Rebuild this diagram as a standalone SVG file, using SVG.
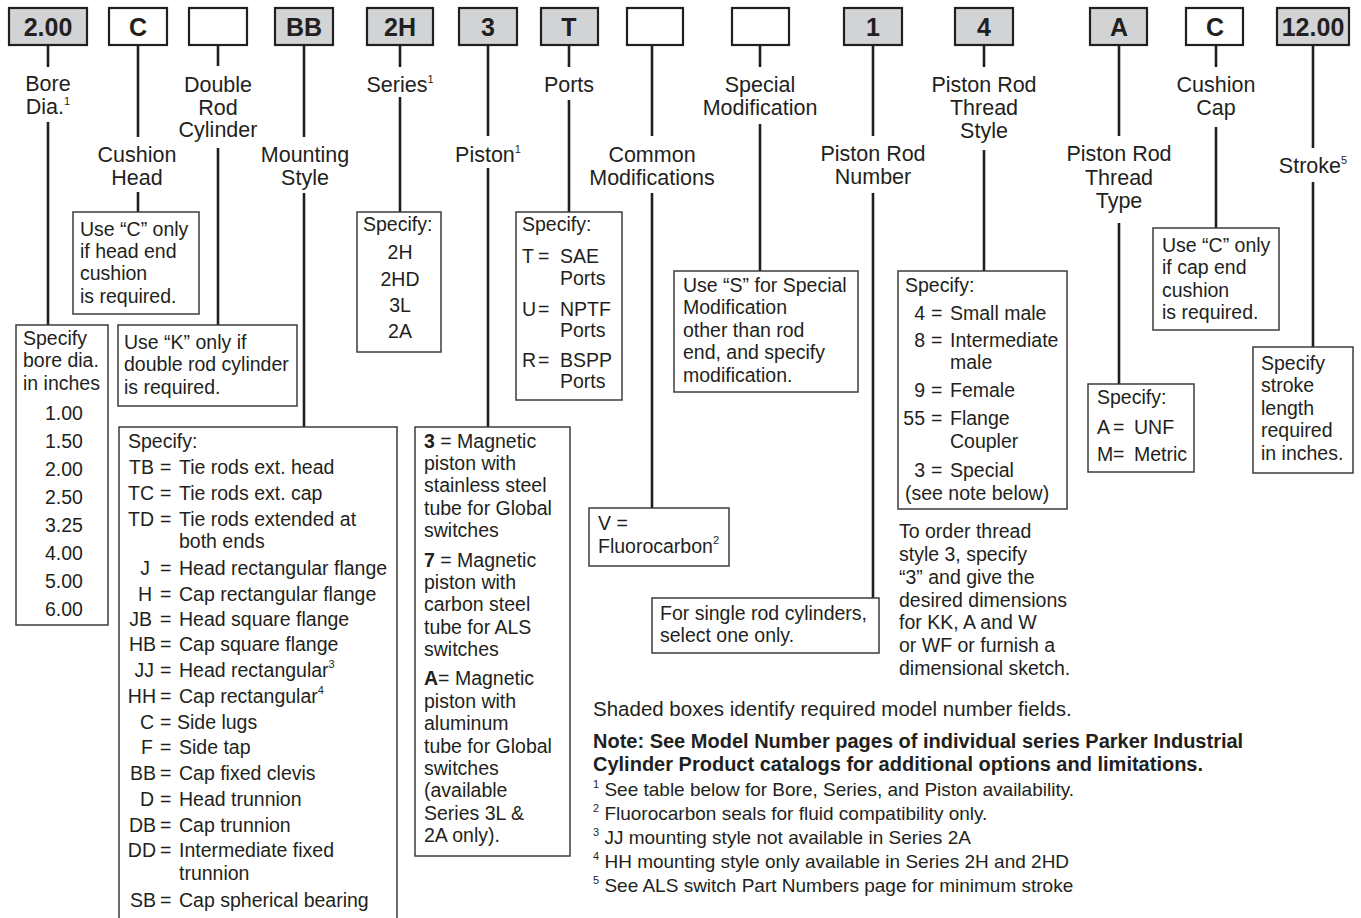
<svg xmlns="http://www.w3.org/2000/svg" width="1361" height="918" viewBox="0 0 1361 918">
<style>
text{font-family:"Liberation Sans",Arial,Helvetica,sans-serif;fill:#231f20}
.top{fill:#fff;stroke:#231f20;stroke-width:2.2}
.req{fill:#d1d3d4}
.code{font-size:25px;font-weight:bold;text-anchor:middle}
.ib{fill:#fff;stroke:#3c3c3c;stroke-width:1.5}
.ln{stroke:#231f20;stroke-width:2.6;fill:none}
.lbl{font-size:21.5px;text-anchor:middle}
.t{font-size:19.5px}
.m{text-anchor:middle}
.e{text-anchor:end}
.fn{font-size:19px}
.b{font-weight:bold}
.sup{font-size:11px}
</style>

<g id="connectors">
<path class="ln" d="M48 45V67M48 122V325
M138 45V137M138 192V212
M218 45V66M218 148V325
M304 45V137M304 193V427
M400 45V67M400 97V212
M488 45V136M488 168V427
M569 45V67M569 100V212
M652 45V136M652 193V508
M760 45V67M760 124V271
M873 45V136M873 193V598
M984 45V67M984 150V271
M1119 45V136M1119 223V384
M1216 45V67M1216 127V228
M1313 45V148M1313 182V347"/>
</g>

<g id="field-bore">
<rect class="top req" x="9" y="8" width="78" height="37"/>
<text class="code" x="48" y="36">2.00</text>
<text class="lbl" x="48" y="91">Bore</text>
<text class="lbl" x="48" y="114">Dia.<tspan class="sup" dy="-9">1</tspan></text>
<rect class="ib" x="16" y="325" width="92" height="300"/>
<text class="t" x="23" y="345">Specify</text>
<text class="t" x="23" y="367">bore dia.</text>
<text class="t" x="23" y="390">in inches</text>
<text class="t m" x="64" y="420">1.00</text>
<text class="t m" x="64" y="448">1.50</text>
<text class="t m" x="64" y="476">2.00</text>
<text class="t m" x="64" y="504">2.50</text>
<text class="t m" x="64" y="532">3.25</text>
<text class="t m" x="64" y="560">4.00</text>
<text class="t m" x="64" y="588">5.00</text>
<text class="t m" x="64" y="616">6.00</text>
</g>

<g id="field-cushion-head">
<rect class="top" x="109" y="8" width="58" height="37"/>
<text class="code" x="138" y="36">C</text>
<text class="lbl" x="137" y="162">Cushion</text>
<text class="lbl" x="137" y="185">Head</text>
<rect class="ib" x="73" y="212" width="126" height="102"/>
<text class="t" x="80" y="236">Use “C” only</text>
<text class="t" x="80" y="258">if head end</text>
<text class="t" x="80" y="280">cushion</text>
<text class="t" x="80" y="303">is required.</text>
</g>

<g id="field-double-rod">
<rect class="top" x="189" y="8" width="58" height="37"/>
<text class="lbl" x="218" y="92">Double</text>
<text class="lbl" x="218" y="115">Rod</text>
<text class="lbl" x="218" y="137">Cylinder</text>
<rect class="ib" x="118" y="325" width="179" height="81"/>
<text class="t" x="124" y="349">Use “K” only if</text>
<text class="t" x="124" y="371">double rod cylinder</text>
<text class="t" x="124" y="394">is required.</text>
</g>

<g id="field-mounting">
<rect class="top req" x="275" y="8" width="58" height="37"/>
<text class="code" x="304" y="36">BB</text>
<text class="lbl" x="305" y="162">Mounting</text>
<text class="lbl" x="305" y="185">Style</text>
<rect class="ib" x="119" y="427" width="278" height="520"/>
<text class="t" x="128" y="448">Specify:</text>
<g class="t">
<text class="t e" x="154" y="474">TB</text><text class="t" x="160" y="474">=</text><text class="t" x="179" y="474">Tie rods ext. head</text>
<text class="t e" x="154" y="500">TC</text><text class="t" x="160" y="500">=</text><text class="t" x="179" y="500">Tie rods ext. cap</text>
<text class="t e" x="154" y="526">TD</text><text class="t" x="160" y="526">=</text><text class="t" x="179" y="526">Tie rods extended at</text>
<text class="t" x="179" y="548">both ends</text>
<text class="t e" x="150" y="575">J</text><text class="t" x="160" y="575">=</text><text class="t" x="179" y="575">Head rectangular flange</text>
<text class="t e" x="152" y="601">H</text><text class="t" x="160" y="601">=</text><text class="t" x="179" y="601">Cap rectangular flange</text>
<text class="t e" x="152" y="626">JB</text><text class="t" x="160" y="626">=</text><text class="t" x="179" y="626">Head square flange</text>
<text class="t e" x="156" y="651">HB</text><text class="t" x="160" y="651">=</text><text class="t" x="179" y="651">Cap square flange</text>
<text class="t e" x="154" y="677">JJ</text><text class="t" x="160" y="677">=</text><text class="t" x="179" y="677">Head rectangular<tspan class="sup" dy="-9">3</tspan></text>
<text class="t e" x="156" y="703">HH</text><text class="t" x="160" y="703">=</text><text class="t" x="179" y="703">Cap rectangular<tspan class="sup" dy="-9">4</tspan></text>
<text class="t e" x="154" y="729">C</text><text class="t" x="160" y="729">=</text><text class="t" x="177" y="729">Side lugs</text>
<text class="t e" x="153" y="754">F</text><text class="t" x="160" y="754">=</text><text class="t" x="179" y="754">Side tap</text>
<text class="t e" x="156" y="780">BB</text><text class="t" x="160" y="780">=</text><text class="t" x="179" y="780">Cap fixed clevis</text>
<text class="t e" x="154" y="806">D</text><text class="t" x="160" y="806">=</text><text class="t" x="179" y="806">Head trunnion</text>
<text class="t e" x="156" y="832">DB</text><text class="t" x="160" y="832">=</text><text class="t" x="179" y="832">Cap trunnion</text>
<text class="t e" x="156" y="857">DD</text><text class="t" x="160" y="857">=</text><text class="t" x="179" y="857">Intermediate fixed</text>
<text class="t" x="179" y="880">trunnion</text>
<text class="t e" x="156" y="907">SB</text><text class="t" x="160" y="907">=</text><text class="t" x="179" y="907">Cap spherical bearing</text>
</g>
</g>

<g id="field-series">
<rect class="top req" x="367" y="8" width="66" height="37"/>
<text class="code" x="400" y="36">2H</text>
<text class="lbl" x="400" y="92">Series<tspan class="sup" dy="-9">1</tspan></text>
<rect class="ib" x="357" y="212" width="84" height="140"/>
<text class="t" x="363" y="231">Specify:</text>
<text class="t m" x="400" y="259">2H</text>
<text class="t m" x="400" y="286">2HD</text>
<text class="t m" x="400" y="312">3L</text>
<text class="t m" x="400" y="338">2A</text>
</g>

<g id="field-piston">
<rect class="top req" x="459" y="8" width="58" height="37"/>
<text class="code" x="488" y="36">3</text>
<text class="lbl" x="488" y="162">Piston<tspan class="sup" dy="-9">1</tspan></text>
<rect class="ib" x="415" y="427" width="155" height="429"/>
<text class="t" x="424" y="448"><tspan class="b">3</tspan> = Magnetic</text>
<text class="t" x="424" y="470">piston with</text>
<text class="t" x="424" y="492">stainless steel</text>
<text class="t" x="424" y="515">tube for Global</text>
<text class="t" x="424" y="537">switches</text>
<text class="t" x="424" y="567"><tspan class="b">7</tspan> = Magnetic</text>
<text class="t" x="424" y="589">piston with</text>
<text class="t" x="424" y="611">carbon steel</text>
<text class="t" x="424" y="634">tube for ALS</text>
<text class="t" x="424" y="656">switches</text>
<text class="t" x="424" y="685"><tspan class="b">A</tspan>= Magnetic</text>
<text class="t" x="424" y="708">piston with</text>
<text class="t" x="424" y="730">aluminum</text>
<text class="t" x="424" y="753">tube for Global</text>
<text class="t" x="424" y="775">switches</text>
<text class="t" x="424" y="797">(available</text>
<text class="t" x="424" y="820">Series 3L &amp;</text>
<text class="t" x="424" y="842">2A only).</text>
</g>

<g id="field-ports">
<rect class="top req" x="541" y="8" width="57" height="37"/>
<text class="code" x="569" y="36">T</text>
<text class="lbl" x="569" y="92">Ports</text>
<rect class="ib" x="516" y="212" width="106" height="188"/>
<text class="t" x="522" y="231">Specify:</text>
<text class="t" x="522" y="263">T</text><text class="t" x="538" y="263">=</text><text class="t" x="560" y="263">SAE</text>
<text class="t" x="560" y="285">Ports</text>
<text class="t" x="522" y="316">U</text><text class="t" x="538" y="316">=</text><text class="t" x="560" y="316">NPTF</text>
<text class="t" x="560" y="337">Ports</text>
<text class="t" x="522" y="367">R</text><text class="t" x="538" y="367">=</text><text class="t" x="560" y="367">BSPP</text>
<text class="t" x="560" y="388">Ports</text>
</g>

<g id="field-common-mod">
<rect class="top" x="627" y="8" width="56" height="37"/>
<text class="lbl" x="652" y="162">Common</text>
<text class="lbl" x="652" y="185">Modifications</text>
<rect class="ib" x="589" y="508" width="140" height="58"/>
<text class="t" x="598" y="530">V =</text>
<text class="t" x="598" y="553">Fluorocarbon<tspan class="sup" dy="-9">2</tspan></text>
</g>

<g id="field-special-mod">
<rect class="top" x="732" y="8" width="57" height="37"/>
<text class="lbl" x="760" y="92">Special</text>
<text class="lbl" x="760" y="115">Modification</text>
<rect class="ib" x="674" y="271" width="184" height="121"/>
<text class="t" x="683" y="292">Use “S” for Special</text>
<text class="t" x="683" y="314">Modification</text>
<text class="t" x="683" y="337">other than rod</text>
<text class="t" x="683" y="359">end, and specify</text>
<text class="t" x="683" y="382">modification.</text>
</g>

<g id="field-rod-number">
<rect class="top req" x="844" y="8" width="58" height="37"/>
<text class="code" x="873" y="36">1</text>
<text class="lbl" x="873" y="161">Piston Rod</text>
<text class="lbl" x="873" y="184">Number</text>
<rect class="ib" x="652" y="598" width="227" height="55"/>
<text class="t" x="660" y="620">For single rod cylinders,</text>
<text class="t" x="660" y="642">select one only.</text>
</g>

<g id="field-thread-style">
<rect class="top req" x="955" y="8" width="58" height="37"/>
<text class="code" x="984" y="36">4</text>
<text class="lbl" x="984" y="92">Piston Rod</text>
<text class="lbl" x="984" y="115">Thread</text>
<text class="lbl" x="984" y="138">Style</text>
<rect class="ib" x="898" y="271" width="169" height="238"/>
<text class="t" x="905" y="292">Specify:</text>
<text class="t e" x="925" y="320">4</text><text class="t" x="931" y="320">=</text><text class="t" x="950" y="320">Small male</text>
<text class="t e" x="925" y="347">8</text><text class="t" x="931" y="347">=</text><text class="t" x="950" y="347">Intermediate</text>
<text class="t" x="950" y="369">male</text>
<text class="t e" x="925" y="397">9</text><text class="t" x="931" y="397">=</text><text class="t" x="950" y="397">Female</text>
<text class="t e" x="925" y="425">55</text><text class="t" x="931" y="425">=</text><text class="t" x="950" y="425">Flange</text>
<text class="t" x="950" y="448">Coupler</text>
<text class="t e" x="925" y="477">3</text><text class="t" x="931" y="477">=</text><text class="t" x="950" y="477">Special</text>
<text class="t" x="905" y="500">(see note below)</text>
<text class="t" x="899" y="538">To order thread</text>
<text class="t" x="899" y="561">style 3, specify</text>
<text class="t" x="899" y="584">“3” and give the</text>
<text class="t" x="899" y="607">desired dimensions</text>
<text class="t" x="899" y="629">for KK, A and W</text>
<text class="t" x="899" y="652">or WF or furnish a</text>
<text class="t" x="899" y="675">dimensional sketch.</text>
</g>

<g id="field-thread-type">
<rect class="top req" x="1090" y="8" width="57" height="37"/>
<text class="code" x="1119" y="36">A</text>
<text class="lbl" x="1119" y="161">Piston Rod</text>
<text class="lbl" x="1119" y="185">Thread</text>
<text class="lbl" x="1119" y="208">Type</text>
<rect class="ib" x="1088" y="384" width="106" height="88"/>
<text class="t" x="1097" y="404">Specify:</text>
<text class="t" x="1097" y="434">A</text><text class="t" x="1113" y="434">=</text><text class="t" x="1134" y="434">UNF</text>
<text class="t" x="1097" y="461">M</text><text class="t" x="1113" y="461">=</text><text class="t" x="1134" y="461">Metric</text>
</g>

<g id="field-cushion-cap">
<rect class="top" x="1186" y="8" width="57" height="37"/>
<text class="code" x="1215" y="36">C</text>
<text class="lbl" x="1216" y="92">Cushion</text>
<text class="lbl" x="1216" y="115">Cap</text>
<rect class="ib" x="1153" y="228" width="126" height="102"/>
<text class="t" x="1162" y="252">Use “C” only</text>
<text class="t" x="1162" y="274">if cap end</text>
<text class="t" x="1162" y="297">cushion</text>
<text class="t" x="1162" y="319">is required.</text>
</g>

<g id="field-stroke">
<rect class="top req" x="1277" y="8" width="72" height="37"/>
<text class="code" x="1313" y="36">12.00</text>
<text class="lbl" x="1313" y="173">Stroke<tspan class="sup" dy="-9">5</tspan></text>
<rect class="ib" x="1253" y="347" width="100" height="126"/>
<text class="t" x="1261" y="370">Specify</text>
<text class="t" x="1261" y="392">stroke</text>
<text class="t" x="1261" y="415">length</text>
<text class="t" x="1261" y="437">required</text>
<text class="t" x="1261" y="460">in inches.</text>
</g>

<g id="notes">
<text class="fn" x="593" y="716" style="font-size:20.5px">Shaded boxes identify required model number fields.</text>
<text class="fn b" x="593" y="748" style="font-size:20px">Note: See Model Number pages of individual series Parker Industrial</text>
<text class="fn b" x="593" y="771" style="font-size:20px">Cylinder Product catalogs for additional options and limitations.</text>
<text class="fn" x="593" y="796"><tspan class="sup" dy="-8">1</tspan><tspan dy="8"> See table below for Bore, Series, and Piston availability.</tspan></text>
<text class="fn" x="593" y="820"><tspan class="sup" dy="-8">2</tspan><tspan dy="8"> Fluorocarbon seals for fluid compatibility only.</tspan></text>
<text class="fn" x="593" y="844"><tspan class="sup" dy="-8">3</tspan><tspan dy="8"> JJ mounting style not available in Series 2A</tspan></text>
<text class="fn" x="593" y="868"><tspan class="sup" dy="-8">4</tspan><tspan dy="8"> HH mounting style only available in Series 2H and 2HD</tspan></text>
<text class="fn" x="593" y="892"><tspan class="sup" dy="-8">5</tspan><tspan dy="8"> See ALS switch Part Numbers page for minimum stroke</tspan></text>
</g>
</svg>
